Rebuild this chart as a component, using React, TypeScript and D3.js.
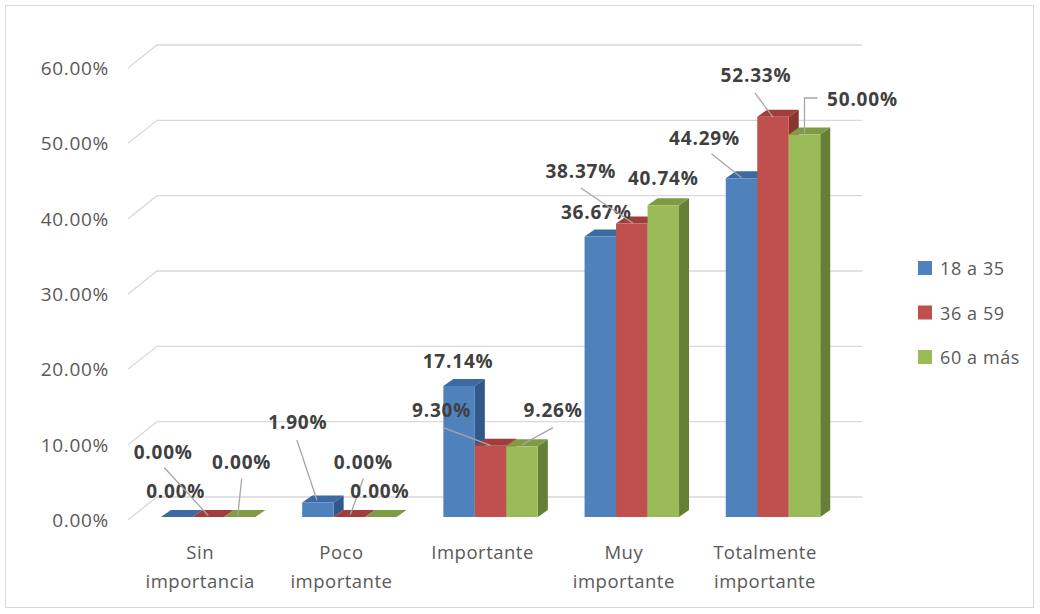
import * as d3 from "d3";

const categories = ["Sin importancia", "Poco importante", "Importante", "Muy importante", "Totalmente importante"];
const categoryLines = [["Sin", "importancia"], ["Poco", "importante"], ["Importante"], ["Muy", "importante"], ["Totalmente", "importante"]];
const series = ["18 a 35", "36 a 59", "60 a más"];
const values18 = [0, 1.9, 17.14, 36.67, 44.29];
const values36 = [0, 0, 9.3, 38.37, 52.33];
const values60 = [0, 0, 9.26, 40.74, 50.0];
const yTicks = [0, 10, 20, 30, 40, 50, 60];

// label placement relative to the centre of each bar's top face: [dx, dy, leader points]
type LabelPos = { dx: number; dy: number; leader?: [number, number][] };
const labelLayout: LabelPos[][] = [
  [{ dx: -6, dy: -23 }, { dx: -50, dy: -62, leader: [[-49, -46], [-5, 2]] }, { dx: -3, dy: -52, leader: [[-3, -35], [-7, 3]] }],
  [{ dx: -25, dy: -77, leader: [[-26, -59], [-6, 1]] }, { dx: 9, dy: -52, leader: [[9, -35], [-4, 1]] }, { dx: -6, dy: -23 }],
  [{ dx: -6, dy: -21 }, { dx: -54, dy: -32, leader: [[-53, -15], [-5, 3]] }, { dx: 26, dy: -33, leader: [[26, -15], [-5, 2]] }],
  [{ dx: -9, dy: -21 }, { dx: -56, dy: -49, leader: [[-56, -32], [-4, 3]] }, { dx: -5, dy: -24 }],
  [{ dx: -42, dy: -37, leader: [[-35, -21], [-5, 3]] }, { dx: -22, dy: -38, leader: [[-23, -20], [-5, 4]] }, { dx: 53, dy: -32, leader: [[-5, 2], [-5, -33], [8, -33]] }],
];

const colors = ["#4f81bd", "#c0504d", "#9bbb59"];
const topColors = ["#3c6ba4", "#a13e3b", "#7f9c44"];
const sideColors = ["#31588a", "#8a3532", "#667f36"];

const W = 1040, H = 614;
const FONT = "'Open Sans', 'Noto Sans', sans-serif";
const BAR_DX = 10, BAR_DY = -7;
const GRID_DX = 29, GRID_DY = -23;

export default function App() {
  const allValues = [values18, values36, values60];

  const x = d3.scaleBand<string>().domain(categories).range([137.6, 843.6]).paddingInner(0.331).paddingOuter(0.1655);
  const xs = d3.scaleBand<string>().domain(series).range([0, x.bandwidth()]);
  const yBar = d3.scaleLinear().domain([0, 60]).range([517, 58]);
  const yGrid = d3.scaleLinear().domain([0, 60]).range([520, 68]);
  const gridX0 = 128, gridX1 = 862;

  const bars: JSX.Element[] = [];
  const labels: JSX.Element[] = [];
  categories.forEach((c, ci) => {
    series.forEach((s, si) => {
      const v = allValues[si][ci];
      const x0 = (x(c) ?? 0) + (xs(s) ?? 0);
      const w = xs.bandwidth();
      const yb = yBar(0), yt = yBar(v);
      const front = `M${x0},${yt}H${x0 + w}V${yb}H${x0}Z`;
      const top = `M${x0},${yt}L${x0 + BAR_DX},${yt + BAR_DY}H${x0 + w + BAR_DX}L${x0 + w},${yt}Z`;
      const side = `M${x0 + w},${yt}L${x0 + w + BAR_DX},${yt + BAR_DY}V${yb + BAR_DY}L${x0 + w},${yb}Z`;
      bars.push(
        <g key={`b${ci}-${si}`}>
          <path d={side} fill={sideColors[si]} />
          <path d={top} fill={topColors[si]} />
          {v > 0 && <path d={front} fill={colors[si]} />}
        </g>
      );
      const ax = x0 + w / 2 + BAR_DX / 2, ay = yt + BAR_DY / 2;
      const lp = labelLayout[ci][si];
      if (lp.leader) {
        const pts = lp.leader.map(([dx, dy]) => `${ax + dx},${ay + dy}`).join(" ");
        labels.push(<polyline key={`l${ci}-${si}`} points={pts} fill="none" stroke="#a6a6a6" strokeWidth={1.3} />);
      }
      labels.push(
        <text key={`t${ci}-${si}`} x={ax + lp.dx} y={ay + lp.dy} textAnchor="middle" dominantBaseline="central"
          fontFamily={FONT} fontSize={19} fontWeight="bold" letterSpacing={0.8} fill="#404040">
          {`${v.toFixed(2)}%`}
        </text>
      );
    });
  });

  return (
    <div style={{ position: "absolute", left: 0, top: 0 }}>
      <svg width={W} height={H} viewBox={`0 0 ${W} ${H}`} style={{ display: "block", background: "#fff" }}>
        <rect x={5.5} y={5.5} width={1028} height={602} fill="none" stroke="#d9d9d9" />
        {yTicks.map((t) => (
          <g key={`g${t}`}>
            <path d={`M${gridX0},${yGrid(t)}L${gridX0 + GRID_DX},${yGrid(t) + GRID_DY}H${gridX1}`} fill="none" stroke="#d9d9d9" strokeWidth={1.3} />
            <text x={109} y={yGrid(t)} textAnchor="end" dominantBaseline="central" fontFamily={FONT} fontSize={19} letterSpacing={0.7} fill="#595959">
              {`${t.toFixed(2)}%`}
            </text>
          </g>
        ))}
        {bars}
        {labels}
        {categories.map((c, ci) => (
          <text key={`c${ci}`} textAnchor="middle" fontFamily={FONT} fontSize={18.5} letterSpacing={0.5} fill="#595959">
            {categoryLines[ci].map((line, li) => (
              <tspan key={li} x={(x(c) ?? 0) + x.bandwidth() / 2 - 8} y={559 + li * 29}>{line}</tspan>
            ))}
          </text>
        ))}
        {series.map((s, si) => (
          <g key={`lg${si}`} transform={`translate(918,${268 + si * 44.5})`}>
            <rect x={0} y={-7} width={14} height={14} fill={colors[si]} />
            <text x={22} y={0} dominantBaseline="central" fontFamily={FONT} fontSize={18} letterSpacing={0.6} fill="#595959">{s}</text>
          </g>
        ))}
      </svg>
    </div>
  );
}
